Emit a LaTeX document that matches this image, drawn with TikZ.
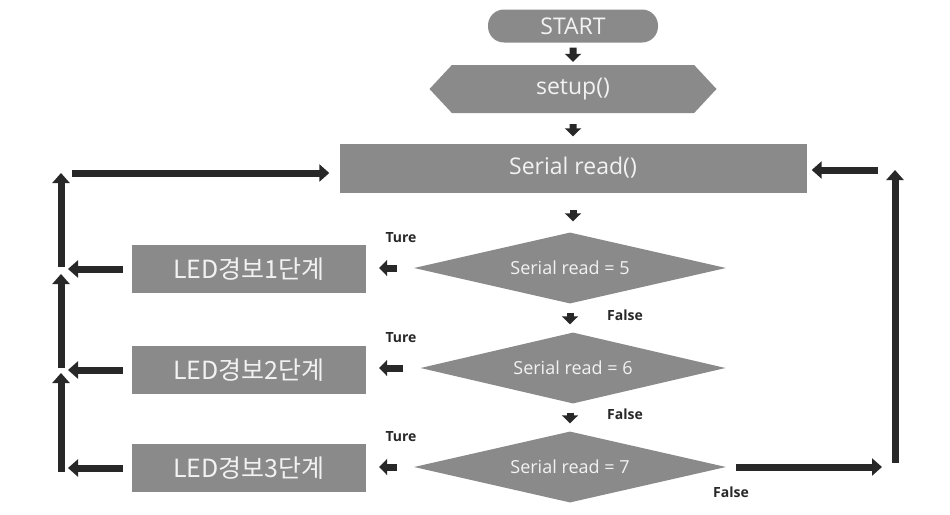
\documentclass[tikz,border=0pt]{standalone}
\usepackage{fontspec}
\setmainfont{Open Sans}
\newfontfamily\krfont{Noto Sans CJK KR}
\usepackage{tikz}
\usetikzlibrary{arrows.meta,positioning,shapes.geometric,shapes.symbols}
\definecolor{boxgray}{RGB}{138,138,138}
\definecolor{arrowdark}{RGB}{40,40,40}
\definecolor{boxtext}{RGB}{242,242,242}
\tikzset{
    >={Triangle[]},
    flowbox/.style={rectangle,fill=boxgray,text=boxtext,inner sep=0pt},
    decision/.style={diamond,aspect=4.4,fill=boxgray,text=boxtext,inner sep=0pt,
        minimum width=312pt,minimum height=71pt,font=\fontsize{18}{21}\selectfont},
    ledbox/.style={flowbox,minimum width=234pt,minimum height=48pt,
        font=\krfont\fontsize{25}{29}\selectfont},
    bigarrow/.style={draw=arrowdark,line width=7pt,-{Triangle[width=17pt,length=10pt]}},
    smallarrow/.style={draw=arrowdark,line width=7pt,-{Triangle[width=16pt,length=8pt]}},
    branchlabel/.style={text=arrowdark,font=\bfseries\fontsize{14}{16}\selectfont,inner sep=0pt}
}

\begin{document}
\begin{tikzpicture}[x=1pt,y=-1pt]
    \useasboundingbox[fill=white] (0,0) rectangle (950,514);

    % main column
    \node[flowbox,rounded corners=16pt,minimum width=170pt,minimum height=33pt,
        font=\fontsize{23}{27}\selectfont] (start) at (573,26) {START};
    \node[flowbox,shape=signal,signal to=east and west,signal pointer angle=94,
        minimum width=287pt,minimum height=48pt,font=\fontsize{23}{27}\selectfont] (setup) at (573,89) {setup()};
    \node[flowbox,minimum width=467pt,minimum height=49pt,
        font=\fontsize{23}{27}\selectfont] (serial) at (573,168) {Serial read()};

    % decisions
    \node[decision] (dec5) at (570,268) {Serial read = 5};
    \node[decision,minimum width=305pt,aspect=4.3] (dec6) at (573,368) {Serial read = 6};
    \node[decision] (dec7) at (570,467) {Serial read = 7};

    % alarm boxes
    \node[ledbox] (led1) at (249,269) {LED경보1단계};
    \node[ledbox] (led2) at (249,370) {LED경보2단계};
    \node[ledbox] (led3) at (249,468) {LED경보3단계};

    % labels
    \node[branchlabel] (ture1) at (401,238) {Ture};
    \node[branchlabel] (ture2) at (401,338) {Ture};
    \node[branchlabel] (ture3) at (401,437) {Ture};
    \node[branchlabel] (false1) at (625,315) {False};
    \node[branchlabel] (false2) at (625,414) {False};
    \node[branchlabel] (false3) at (731,492) {False};

    % corner points of the loops
    \coordinate (bus1) at (61,269);
    \coordinate (bus2) at (61,370);
    \coordinate (bus3) at (61,472);
    \coordinate (busTop) at (61,173);
    \coordinate (retBot) at (895,467);
    \coordinate (retTop) at (895,170);

    % short arrows down the column
    \draw[smallarrow,shorten <=5pt,shorten >=3pt] (start) -- (setup);
    \draw[smallarrow,shorten <=11pt,shorten >=7pt] (setup) -- (serial);
    \draw[smallarrow,shorten <=17pt,shorten >=11pt] (serial) -- (dec5.north -| serial);
    \draw[smallarrow,shorten <=9pt,shorten >=8pt] (dec5) -- (dec5 |- dec6.north);
    \draw[smallarrow,shorten <=9pt,shorten >=8pt] (dec6.south -| dec7) -- (dec7);

    % true branches
    \draw[smallarrow,shorten <=17pt,shorten >=13pt] (dec5.west) -- (led1.east |- dec5.west);
    \draw[smallarrow,shorten <=17pt,shorten >=13pt] (dec6.west) -- (led2.east |- dec6.west);
    \draw[smallarrow,shorten <=17pt,shorten >=13pt] (dec7.west) -- (led3.east |- dec7.west);

    % back to serial read on the left
    \draw[bigarrow,shorten <=9pt,shorten >=7pt] (led1.west) -- (bus1);
    \draw[bigarrow,shorten <=9pt,shorten >=7pt] (led2.west) -- (bus2);
    \draw[bigarrow,shorten <=9pt,shorten >=7pt] (led3.west) -- (led3.west -| bus3);
    \draw[bigarrow,shorten >=3pt] (bus3) -- (bus2);
    \draw[bigarrow,shorten <=2pt,shorten >=5pt] (bus2) -- (bus1);
    \draw[bigarrow,shorten <=2pt,shorten >=0pt] (bus1) -- (busTop);
    \draw[bigarrow,shorten <=11pt,shorten >=10pt] (busTop) -- (serial.west |- busTop);

    % false of the last test, back on the right
    \draw[bigarrow,shorten <=10pt,shorten >=13pt] (dec7.east) -- (retBot);
    \draw[bigarrow,shorten <=4pt] (retBot) -- (retTop);
    \draw[bigarrow,shorten <=17pt,shorten >=5pt] (retTop) -- (serial.east |- retTop);
\end{tikzpicture}
\end{document}
